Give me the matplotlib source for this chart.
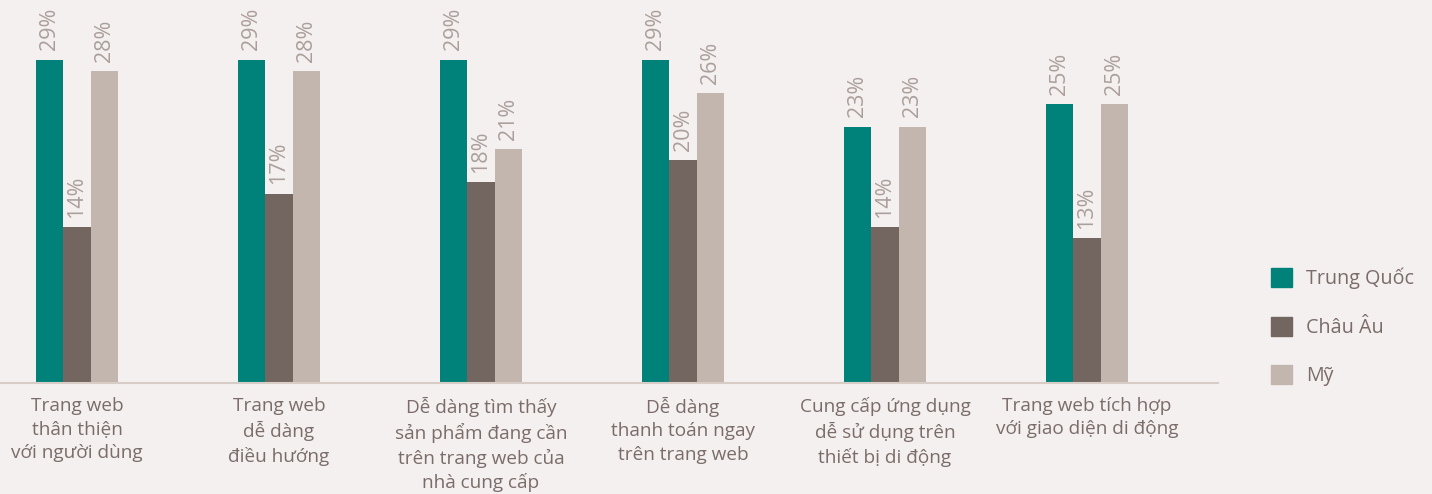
import numpy as np
import matplotlib.pyplot as plt
from matplotlib.patches import Patch

plt.rcParams['font.family'] = ['Open Sans', 'DejaVu Sans']

categories = [
    'Trang web\nthân thiện\nvới người dùng',
    'Trang web\ndễ dàng\nđiều hướng',
    'Dễ dàng tìm thấy\nsản phẩm đang cần\ntrên trang web của\nnhà cung cấp',
    'Dễ dàng\nthanh toán ngay\ntrên trang web',
    'Cung cấp ứng dụng\ndễ sử dụng trên\nthiết bị di động',
    'Trang web tích hợp\nvới giao diện di động',
]
series_names = ['Trung Quốc', 'Châu Âu', 'Mỹ']
trung_quoc = [29, 29, 29, 29, 23, 25]
chau_au = [14, 17, 18, 20, 14, 13]
my = [28, 28, 21, 26, 23, 25]

colors = ['#00827a', '#73655f', '#c3b6ae']
bg = '#f4f0ef'
text_col = '#7a6d69'
val_col = '#ab9f9b'

fig = plt.figure(figsize=(14.32, 4.94), dpi=100, facecolor=bg)
ax = fig.add_axes([0, (494 - 383) / 494, 1218 / 1432, 383 / 494])
ax.set_facecolor(bg)

x = np.arange(len(categories))
w = 0.134
for i, vals in enumerate([trung_quoc, chau_au, my]):
    xs = x + (i - 1) * w
    ax.bar(xs, vals, width=w, color=colors[i], label=series_names[i])
    for xi, v in zip(xs, vals):
        ax.text(xi, v + 0.85, f'{v}%', rotation=90, ha='center', va='bottom',
                fontsize=15.5, color=val_col)

ax.set_xlim(-77 / 202, (1218 - 77) / 202)
ax.set_ylim(0, 383 / 11.14)
ax.set_xticks(x)
ax.set_xticklabels(categories, fontsize=13.7, color=text_col, linespacing=1.38)
ax.tick_params(axis='x', length=0, pad=10)
ax.set_yticks([])
for s in ['top', 'right', 'left']:
    ax.spines[s].set_visible(False)
ax.spines['bottom'].set_color('#d8ccc7')
ax.spines['bottom'].set_linewidth(1.5)

handles = [Patch(color=c) for c in colors]
fig.legend(handles, series_names, loc='center left', bbox_to_anchor=(1253 / 1432, 1 - 327 / 494),
           frameon=False, fontsize=14.2, labelcolor=text_col, handlelength=1.1, handleheight=1.1,
           handletextpad=0.7, labelspacing=1.38)

fig.savefig('out.png', dpi=100, facecolor=bg)
